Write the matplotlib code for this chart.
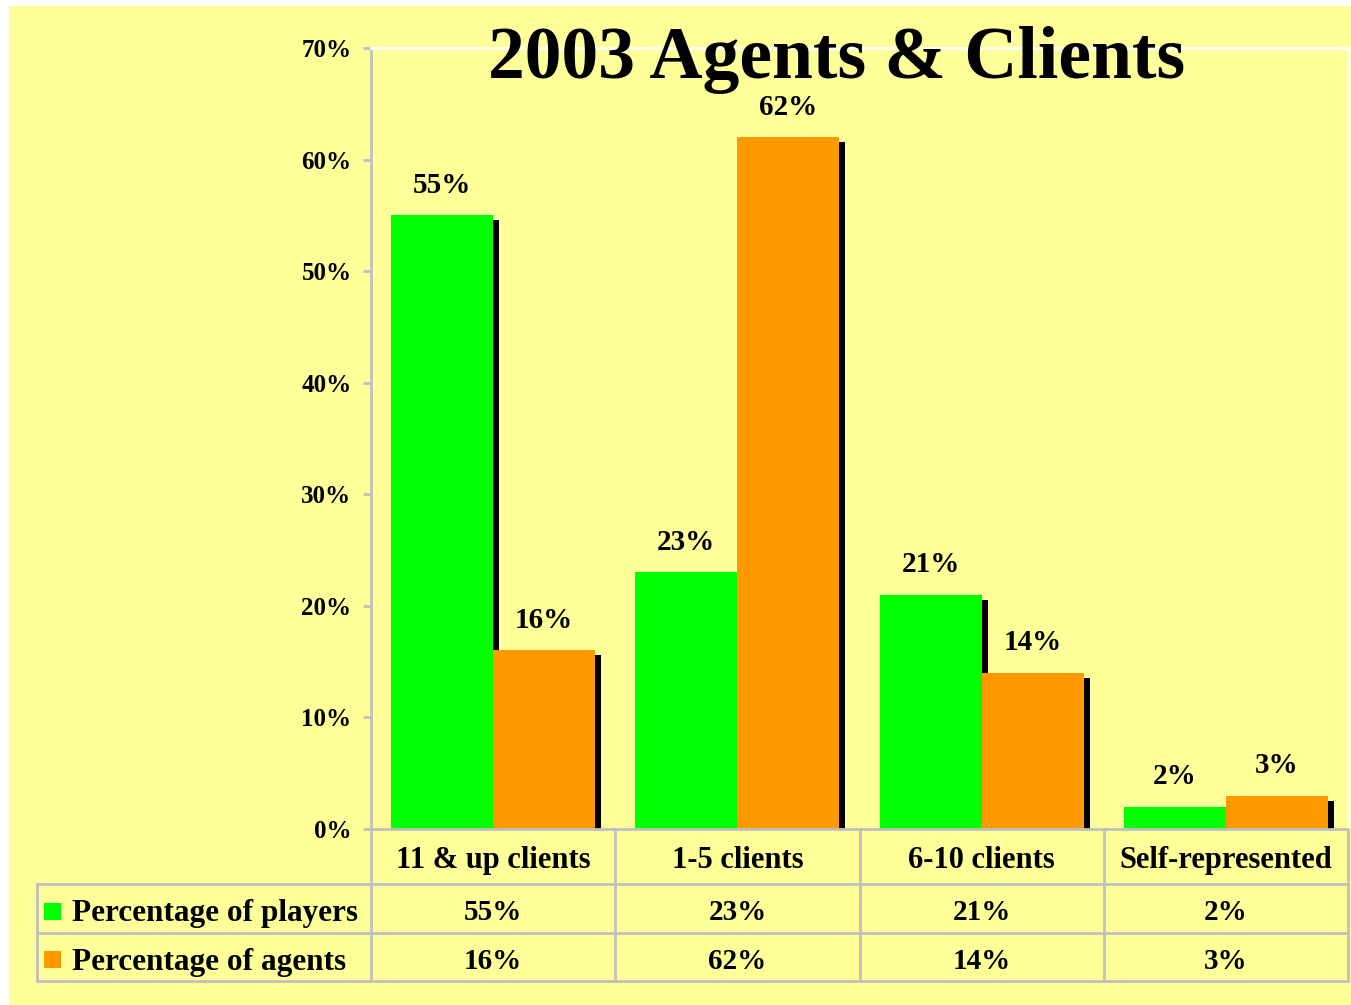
import matplotlib.pyplot as plt
from matplotlib.patches import Rectangle

categories = ["11 & up clients", "1-5 clients", "6-10 clients", "Self-represented"]
players = [55, 23, 21, 2]
agents = [16, 62, 14, 3]
series_names = ["Percentage of players", "Percentage of agents"]
yticks = [0, 10, 20, 30, 40, 50, 60, 70]

GREEN = "#00FF00"
ORANGE = "#FF9900"
BG = "#FFFF99"
GRID = "#C0C0C0"
FONT = "Liberation Serif"

W, H = 1351, 1005
fig = plt.figure(figsize=(W / 100, H / 100), dpi=100, facecolor="white")

# yellow panel
fig.patches.append(Rectangle((9 / W, 0), 1 - 9 / W, 1 - 6 / H, transform=fig.transFigure,
                             facecolor=BG, edgecolor="none", zorder=-10))

# plot area in pixels
L, R, T, B = 371, 1348, 48, 829
ax = fig.add_axes([L / W, (H - B) / H, (R - L) / W, (B - T) / H])
ax.set_facecolor(BG)
ax.set_xlim(-0.5, len(categories) - 0.5)
ax.set_ylim(0, 70)

bw = 0.418
# shadow offsets (~6px right, ~5px down)
dx = 6 / ((R - L) / len(categories))
dy = 5 * 70 / (B - T)
xs = list(range(len(categories)))
for i in xs:
    for j, (vals, col) in enumerate([(players, GREEN), (agents, ORANGE)]):
        x = i - bw + j * bw
        ax.bar(x + dx, max(vals[i] - dy, 0), width=bw, align="edge", color="black", zorder=1)
        ax.bar(x, vals[i], width=bw, align="edge", color=col, zorder=2)
        ax.text(x + bw / 2, vals[i] + 2.0, f"{vals[i]}%", ha="center", va="baseline",
                family=FONT, weight="bold", fontsize=21, zorder=3)

ax.set_yticks(yticks)
ax.set_yticklabels([f"{v}%" for v in yticks], family=FONT, weight="bold", fontsize=18)
ax.set_xticks([])
ax.tick_params(axis="y", length=6, width=2, color=GRID, pad=8)
ax.spines["left"].set_color(GRID)
ax.spines["left"].set_linewidth(2)
ax.spines["bottom"].set_color(GRID)
ax.spines["bottom"].set_linewidth(2)
for s in ["top", "right"]:
    ax.spines[s].set_color("white")
    ax.spines[s].set_linewidth(2)

fig.text(837 / W, 1 - 78 / H, "2003 Agents & Clients", ha="center", va="baseline",
         family=FONT, weight="bold", fontsize=53)

# data table below the axes (axes coords for y, data coords for x)
tr = ax.get_xaxis_transform()
def ya(p):
    return (B - p) / (B - T)

row_y = [ya(829), ya(884), ya(933), ya(981)]
x_left = (37 - L) / ((R - L) / len(categories)) - 0.5
x_bounds = [i - 0.5 for i in range(len(categories) + 1)]

lk = dict(color=GRID, lw=2, transform=tr, clip_on=False)
for yv in row_y[1:]:
    ax.plot([x_left, x_bounds[-1]], [yv, yv], **lk)
for xb in x_bounds:
    ax.plot([xb, xb], [row_y[0], row_y[-1]], **lk)
ax.plot([x_left, x_left], [row_y[1], row_y[-1]], **lk)

# text sits a few pixels below the cell middle in the original
shift = 4 / (B - T)
tk = dict(family=FONT, weight="bold", ha="center", va="center",
          transform=tr, clip_on=False)
for i, c in enumerate(categories):
    ax.text(i, (row_y[0] + row_y[1]) / 2 - shift, c, fontsize=22, **tk)
    ax.text(i, (row_y[1] + row_y[2]) / 2 - shift, f"{players[i]}%", fontsize=21, **tk)
    ax.text(i, (row_y[2] + row_y[3]) / 2 - shift, f"{agents[i]}%", fontsize=21, **tk)

# legend keys in the left column
for k, (name, col) in enumerate(zip(series_names, [GREEN, ORANGE])):
    ymid = (row_y[k + 1] + row_y[k + 2]) / 2
    fy = (H - B) / H + ymid * (B - T) / H
    fig.patches.append(Rectangle((44 / W, fy - 11 / H), 17 / W, 17 / H, transform=fig.transFigure,
                                 facecolor=col, edgecolor="none"))
    fig.text(72 / W, fy - 5 / H, name, ha="left", va="center", family=FONT, weight="bold", fontsize=22.5)

fig.savefig("out.png", dpi=100, facecolor="white")
